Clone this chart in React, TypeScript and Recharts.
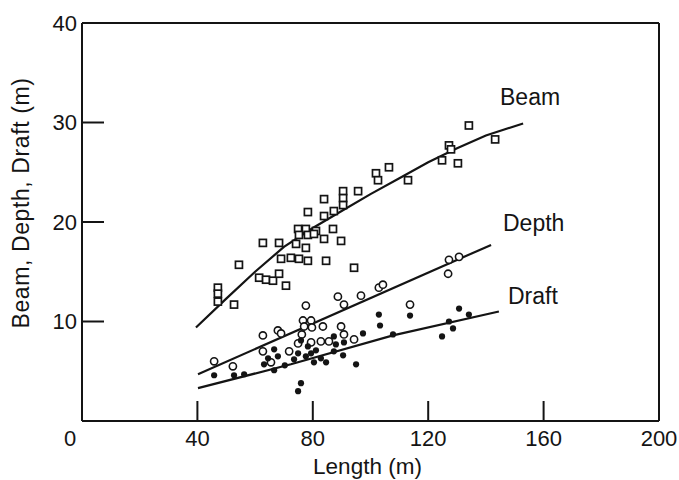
import React from 'react';
import { ScatterChart, Scatter, XAxis, YAxis } from 'recharts';

const FONT = '"Liberation Sans", Arial, Helvetica, sans-serif';
const INK = '#141414';

// Length (m) vs Beam (m) — open squares
const beamData: [number, number][] = [
  [47.1, 13.4], [47.1, 12.8], [47.1, 12.0], [52.7, 11.7], [54.4, 15.7],
  [61.4, 14.4], [63.8, 14.2], [66.2, 14.1], [68.3, 14.8], [70.7, 13.6],
  [69.0, 16.3], [72.4, 16.4], [75.2, 16.3], [78.3, 16.1], [84.6, 16.1],
  [94.3, 15.4], [74.2, 17.8], [77.6, 17.4], [74.9, 19.3], [77.6, 19.3],
  [81.1, 19.1], [75.2, 18.7], [78.3, 18.7], [80.4, 18.8], [87.0, 19.3],
  [83.9, 18.3], [89.8, 18.1], [78.3, 21.0], [83.9, 20.6], [87.3, 21.1],
  [83.9, 22.3], [90.5, 23.1], [90.5, 22.4], [90.5, 21.7], [95.7, 23.1],
  [101.9, 24.9], [102.6, 24.2], [106.4, 25.5], [113.0, 24.2], [124.8, 26.2],
  [127.2, 27.7], [127.9, 27.3], [130.3, 25.9], [134.1, 29.7], [143.2, 28.3],
  [62.7, 17.9], [68.3, 17.9],
];

// Length (m) vs Depth (m) — open circles
const depthData: [number, number][] = [
  [45.8, 6.0], [52.3, 5.5], [62.7, 8.6], [62.7, 7.0], [65.5, 5.9],
  [67.9, 9.1], [69.0, 8.8], [71.8, 7.0], [74.9, 7.8], [76.2, 8.7],
  [76.6, 10.1], [77.0, 9.5], [77.6, 11.6], [79.4, 10.1], [79.4, 7.9],
  [79.7, 9.4], [82.8, 8.0], [83.5, 9.5], [85.6, 8.0], [88.7, 12.5],
  [89.8, 9.5], [90.8, 11.7], [90.8, 8.7], [94.3, 8.2], [96.7, 12.6],
  [102.9, 13.4], [104.3, 13.7], [113.7, 11.7], [126.9, 14.8], [127.2, 16.2],
  [130.7, 16.5],
];

// Length (m) vs Draft (m) — filled dots
const draftData: [number, number][] = [
  [45.8, 4.6], [52.7, 4.6], [56.2, 4.7], [63.1, 5.7], [64.5, 6.3],
  [66.6, 7.2], [66.6, 5.1], [67.9, 6.5], [70.3, 5.6], [73.5, 6.2],
  [74.9, 6.8], [74.9, 3.0], [75.9, 3.8], [75.9, 8.1], [77.6, 6.5],
  [78.3, 7.5], [79.4, 6.8], [80.4, 5.9], [81.1, 7.1], [82.8, 6.3],
  [84.6, 5.9], [87.3, 7.0], [87.3, 8.5], [88.0, 7.7], [90.5, 6.6],
  [90.8, 7.9], [95.0, 5.7], [97.4, 8.8], [102.9, 10.7], [103.3, 9.6],
  [107.8, 8.7], [113.7, 10.6], [124.8, 8.5], [127.2, 10.0], [128.6, 9.3],
  [130.7, 11.3], [134.1, 10.7],
];

// Fitted curves
const beamFit: [number, number][] = [
  [39.5, 9.4], [50, 12.3], [60, 15.0], [70, 17.5], [80, 19.4], [90, 21.1],
  [100, 22.8], [110, 24.4], [120, 26.0], [130, 27.4], [140, 28.7], [152.9, 29.9],
];
const depthFit: [number, number][] = [[40.2, 4.7], [141.8, 17.7]];
const draftFit: [number, number][] = [[40.2, 3.3], [72.4, 5.7], [107.8, 8.6], [144.5, 11.0]];

const xMajorTicks = [0, 40, 80, 120, 160, 200];
const xTopMajorTicks = [40, 80, 120, 160];
const xMinorTicks = [20, 60, 100, 140, 180];
const yMajorTicks = [10, 20, 30, 40];
const yRightMajorTicks = [10, 20, 30];
const yMinorTicks = [5, 15, 25, 35];

const toXY = (arr: [number, number][]) => arr.map(([x, y]) => ({ x, y }));

const SquareShape = (p: any) => (
  <rect x={p.cx - 3.5} y={p.cy - 3.5} width={7} height={7} fill="#fff" stroke={INK} strokeWidth={1.7} />
);
const CircleShape = (p: any) => (
  <circle cx={p.cx} cy={p.cy} r={3.6} fill="#fff" stroke={INK} strokeWidth={1.6} />
);
const DotShape = (p: any) => <circle cx={p.cx} cy={p.cy} r={3.1} fill={INK} />;
const NoShape = () => <g />;

const XTick = (p: any) => {
  const dx = p.payload.value === 0 ? -12 : 0;
  return (
    <text x={p.x + dx} y={p.y} dy={16} textAnchor="middle" fontSize={22} fontFamily={FONT} fill={INK}>
      {p.payload.value}
    </text>
  );
};

const axisStroke = { stroke: INK, strokeWidth: 2 };

export default function App() {
  return (
    <div style={{ position: 'absolute', left: 0, top: 0, width: 679, height: 480, background: '#fff' }}>
      <ScatterChart width={679} height={480} margin={{ top: 21, right: 18, bottom: 57, left: 80 }}>
        <XAxis xAxisId="b" type="number" dataKey="x" domain={[0, 200]} allowDataOverflow ticks={xMajorTicks}
          interval={0} height={1} orientation="bottom" tickSize={-20} tickMargin={29}
          axisLine={axisStroke} tickLine={axisStroke} tick={<XTick />} />
        <XAxis xAxisId="bm" type="number" domain={[0, 200]} allowDataOverflow ticks={xMinorTicks}
          interval={0} height={1} orientation="bottom" tickSize={-14} axisLine={false} tickLine={axisStroke} tick={false} />
        <XAxis xAxisId="t" type="number" domain={[0, 200]} allowDataOverflow ticks={xTopMajorTicks}
          interval={0} height={1} orientation="top" tickSize={-22} axisLine={axisStroke} tickLine={axisStroke} tick={false} />
        <XAxis xAxisId="tm" type="number" domain={[0, 200]} allowDataOverflow ticks={xMinorTicks}
          interval={0} height={1} orientation="top" tickSize={-16} axisLine={false} tickLine={axisStroke} tick={false} />
        <YAxis yAxisId="l" type="number" dataKey="y" domain={[0, 40]} allowDataOverflow ticks={yMajorTicks}
          interval={0} width={1} orientation="left" tickSize={-22} tickMargin={27}
          axisLine={axisStroke} tickLine={axisStroke}
          tick={{ fontSize: 22, fill: INK, fontFamily: FONT }} />
        <YAxis yAxisId="lm" type="number" domain={[0, 40]} allowDataOverflow ticks={yMinorTicks}
          interval={0} width={1} orientation="left" tickSize={-16} axisLine={false} tickLine={axisStroke} tick={false} />
        <YAxis yAxisId="r" type="number" domain={[0, 40]} allowDataOverflow ticks={yRightMajorTicks}
          interval={0} width={1} orientation="right" tickSize={-22} axisLine={axisStroke} tickLine={axisStroke} tick={false} />
        <YAxis yAxisId="rm" type="number" domain={[0, 40]} allowDataOverflow ticks={yMinorTicks}
          interval={0} width={1} orientation="right" tickSize={-16} axisLine={false} tickLine={axisStroke} tick={false} />

        <Scatter xAxisId="b" yAxisId="l" data={toXY(beamFit)} line={{ stroke: INK, strokeWidth: 2.2 }}
          shape={NoShape} isAnimationActive={false} />
        <Scatter xAxisId="b" yAxisId="l" data={toXY(depthFit)} line={{ stroke: INK, strokeWidth: 2.2 }}
          shape={NoShape} isAnimationActive={false} />
        <Scatter xAxisId="b" yAxisId="l" data={toXY(draftFit)} line={{ stroke: INK, strokeWidth: 2.2 }}
          shape={NoShape} isAnimationActive={false} />
        <Scatter xAxisId="b" yAxisId="l" data={toXY(beamData)} shape={SquareShape} isAnimationActive={false} />
        <Scatter xAxisId="b" yAxisId="l" data={toXY(depthData)} shape={CircleShape} isAnimationActive={false} />
        <Scatter xAxisId="b" yAxisId="l" data={toXY(draftData)} shape={DotShape} isAnimationActive={false} />
      </ScatterChart>
      <svg width={679} height={480} style={{ position: 'absolute', left: 0, top: 0, pointerEvents: 'none' }}>
        <g fontFamily={FONT} fill={INK}>
          <text x={500} y={104.5} fontSize={23}>Beam</text>
          <text x={503} y={231} fontSize={23}>Depth</text>
          <text x={508} y={304} fontSize={23}>Draft</text>
          <text x={367.5} y={473.5} fontSize={22.5} textAnchor="middle">Length (m)</text>
          <text x={29} y={203} fontSize={23} letterSpacing={0.6} textAnchor="middle" transform="rotate(-90 29 203)">
            Beam, Depth, Draft (m)
          </text>
        </g>
      </svg>
    </div>
  );
}
